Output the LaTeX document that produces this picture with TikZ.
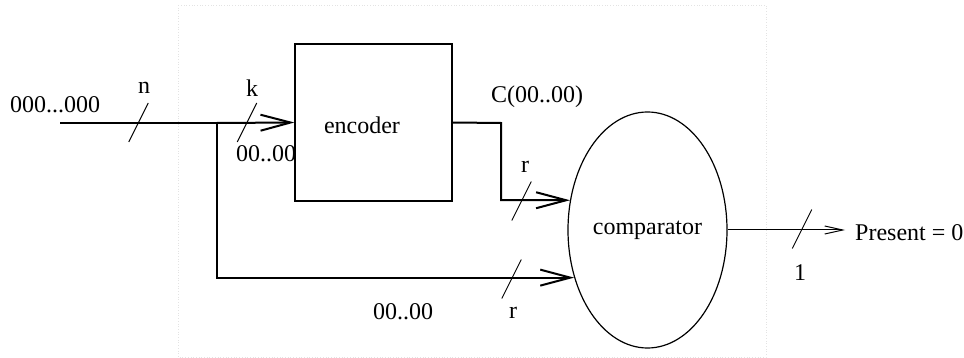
\documentclass[tikz,border=0pt]{standalone}
\usepackage{fontspec}
\setmainfont{Liberation Serif}
\usetikzlibrary{arrows.meta,shapes.geometric}
\begin{document}
\begin{tikzpicture}[x=1pt,y=-1pt,
  every node/.style={font=\fontsize{24}{28}\selectfont, inner sep=0pt},
  block/.style={draw, line width=1.2pt, minimum width=157pt, minimum height=157pt},
  cmpshape/.style={draw, ellipse, line width=1.2pt, minimum width=159pt, minimum height=236pt},
  bus/.style={line width=2pt, -{Straight Barb[length=30pt,width=16pt]}},
  thinbus/.style={line width=1pt, -{Straight Barb[length=18pt,width=8pt]}},
  frame/.style={gray!22, dotted, line width=0.7pt},
  busmark/.pic={\draw[line width=0.9pt] (-9.75,19.5) -- (9.75,-19.5);}
]
\useasboundingbox (0,0) rectangle (964,358);

% faint outer frame
\draw[frame] (178,5) rectangle (766,357);

% blocks
\node[block] (enc) at (373.5,122.5) {};
\node (enctext) at (362,125) {encoder};
\node[cmpshape] (comp) at (647.5,230) {comparator};

% routing points
\coordinate (src) at (60,123);
\coordinate (split) at (217,123);
\coordinate (bend) at (501,123);
\coordinate (sink) at (845,230);

% connectors
\draw[line width=2pt] (src) -- (split);
\draw[bus] (split) -- (enc.west);
\draw[bus] (enc.east) -- (bend) |- (comp.159.2);
\draw[bus] (split) |- (comp.213.7);
\draw[thinbus] (comp.east) -- (sink);

% bus width marks
\pic at (138.5,122.5) {busmark};
\pic at (247,122.5) {busmark};
\pic at (521.5,201) {busmark};
\pic at (511.5,279) {busmark};
\pic at (802,229) {busmark};

% labels
\node (inlbl) at (55,105) {000...000};
\node (nlbl) at (144,88) {n};
\node (klbl) at (252,88) {k};
\node (ksub) at (266,154) {00..00};
\node (clbl) at (537,97) {C(00..00)};
\node (rtop) at (525,167) {r};
\node (dlbl) at (403,312) {00..00};
\node (rbot) at (513,313) {r};
\node (onelbl) at (800,273) {1};
\node[anchor=west] (present) at (855,233) {Present = 0};
\end{tikzpicture}
\end{document}
